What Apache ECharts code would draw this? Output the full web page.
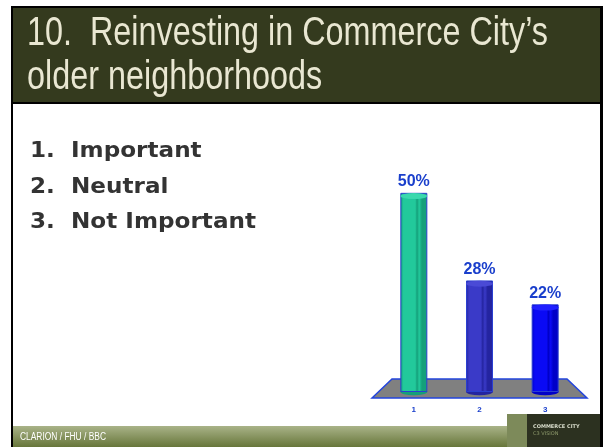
<!DOCTYPE html>
<html>
<head>
<meta charset="utf-8">
<script src="https://cdn.jsdelivr.net/npm/echarts@6/dist/echarts.min.js"></script>
<style>
  html, body { margin: 0; padding: 0; background: #fff; }
  #chart { width: 604px; height: 447px; }
</style>
</head>
<body>
<div id="chart"></div>
<script>
// data
const categories = ['1', '2', '3']
const percents = [50, 28, 22]
const titleLines = ['10.  Reinvesting in Commerce City\u2019s', 'older neighborhoods']
const answers = ['1.  Important', '2.  Neutral', '3.  Not Important']
const footer = 'CLARION / FHU / BBC'

// cylinder colours per bar (face, shade, top)
const barColors = [
  ['#22c99b', '#14a07a', '#3ad9ad'],
  ['#3a3ac8', '#2424a0', '#4a4ad6'],
  ['#0a0af5', '#0000c8', '#2020ff']
]

const titleFont = '40px "Liberation Sans", Arial, sans-serif'
const listFont = 'bold 21px "DejaVu Sans", sans-serif'
const footFont = '10px "Liberation Sans", Arial, sans-serif'

// squeeze/stretch text to the widths seen on the slide
const ctx = document.createElement('canvas').getContext('2d')
function fit(text, font, width) {
  ctx.font = font
  return width / ctx.measureText(text).width
}
const titleScale = fit(titleLines[0], titleFont, 521)
const listScale = fit(answers[2], listFont, 226)
const footScale = fit(footer, footFont, 86)

function cylinder(c) {
  return new echarts.graphic.LinearGradient(0, 0, 1, 0, [
    { offset: 0, color: c[1] },
    { offset: 0.12, color: c[0] },
    { offset: 0.55, color: c[0] },
    { offset: 0.62, color: c[1] },
    { offset: 0.7, color: c[0] },
    { offset: 0.8, color: c[1] },
    { offset: 1, color: c[1] }
  ])
}

function txt(text, x, y, font, fill, sx) {
  return { type: 'text', x: x, y: y, scaleX: sx, z: 5,
    style: { text: text, fill: fill, font: font } }
}

const chart = echarts.init(document.getElementById('chart'))

const option = {
  animation: false,
  grid: { left: 381, right: 26, top: 153, bottom: 55 },
  xAxis: {
    type: 'category',
    data: categories,
    axisLine: { show: false },
    axisTick: { show: false },
    axisLabel: { color: '#1a3fcc', fontSize: 8, fontWeight: 'bold', fontFamily: 'Arial', margin: 14 }
  },
  yAxis: { type: 'value', min: 0, max: 60, show: false },
  graphic: [
    // title block
    { type: 'rect', shape: { x: 11, y: 6, width: 592, height: 98 }, style: { fill: '#000' }, z: 0 },
    { type: 'rect', shape: { x: 13, y: 8, width: 587, height: 94 }, style: { fill: '#343a1e' }, z: 0 },
    // frame sides
    { type: 'rect', shape: { x: 11, y: 104, width: 2, height: 343 }, style: { fill: '#000' }, z: 0 },
    { type: 'rect', shape: { x: 600, y: 104, width: 3, height: 343 }, style: { fill: '#000' }, z: 0 },
    // title text
    txt(titleLines[0], 27, 14, titleFont, '#e9e7d2', titleScale),
    txt(titleLines[1], 27, 58, titleFont, '#e9e7d2', titleScale),
    // answer list
    txt(answers[0], 30, 141, listFont, '#333333', listScale),
    txt(answers[1], 30, 177, listFont, '#333333', listScale),
    txt(answers[2], 30, 212, listFont, '#333333', listScale),
    // floor of the 3d chart
    { type: 'polygon', z: 0,
      shape: { points: [[372, 398], [392, 379], [567, 379], [587, 398]] },
      style: { fill: '#808080', stroke: '#2244dd', lineWidth: 1.5 } },
    // footer bar
    { type: 'rect', z: 0, shape: { x: 13, y: 426, width: 495, height: 21 },
      style: { fill: new echarts.graphic.LinearGradient(0, 0, 0, 1, [
        { offset: 0, color: '#a9b388' }, { offset: 1, color: '#67763a' }]) } },
    txt(footer, 20, 432, footFont, '#ffffff', footScale),
    // logo block
    { type: 'rect', z: 0, shape: { x: 507, y: 414, width: 93, height: 33 }, style: { fill: '#2c3120' } },
    { type: 'rect', z: 0, shape: { x: 507, y: 414, width: 20, height: 33 }, style: { fill: '#7d8a5a' } },
    txt('COMMERCE CITY', 533, 424, 'bold 5px "DejaVu Sans", sans-serif', '#d8dccb', 1),
    txt('C3 VISION', 533, 431, '5px "DejaVu Sans", sans-serif', '#8e9a6c', 1)
  ],
  series: [
    {
      type: 'bar',
      barWidth: 27,
      z: 3,
      data: percents.map((v, i) => ({
        value: v,
        itemStyle: { color: cylinder(barColors[i]) }
      })),
      itemStyle: { borderColor: '#2a3fd0', borderWidth: 1 },
      label: {
        show: true,
        position: 'top',
        distance: 3,
        formatter: '{c}%',
        color: '#1a3fcc',
        fontSize: 16,
        fontWeight: 'bold',
        fontFamily: 'Arial'
      }
    },
    {
      type: 'pictorialBar',
      symbol: 'circle',
      symbolSize: [27, 6],
      symbolPosition: 'end',
      symbolOffset: [0, 0],
      z: 4,
      data: percents.map((v, i) => ({
        value: v,
        itemStyle: { color: barColors[i][2], borderColor: '#2a3fd0', borderWidth: 1 }
      }))
    },
    {
      type: 'pictorialBar',
      symbol: 'circle',
      symbolSize: [27, 7],
      symbolPosition: 'start',
      symbolOffset: [0, '50%'],
      z: 2,
      data: percents.map((v, i) => ({
        value: v,
        itemStyle: { color: barColors[i][1], borderColor: '#2a3fd0', borderWidth: 1 }
      }))
    }
  ]
}

chart.setOption(option)
</script>
</body>
</html>
